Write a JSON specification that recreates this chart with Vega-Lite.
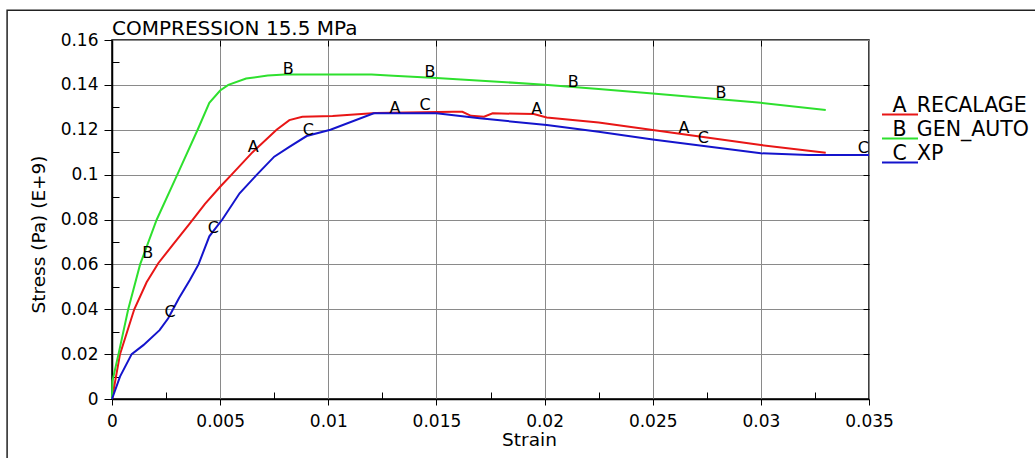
{
  "$schema": "https://vega.github.io/schema/vega-lite/v6.json",
  "width": 757,
  "height": 359,
  "autosize": {"type": "none"},
  "padding": {"left": 112, "top": 40, "right": 166, "bottom": 59},
  "background": "white",
  "title": {
    "text": "COMPRESSION 15.5 MPa",
    "anchor": "start",
    "frame": "group",
    "font": "DejaVu Sans",
    "fontSize": 20,
    "fontWeight": "normal",
    "color": "black",
    "baseline": "alphabetic",
    "offset": -46
  },
  "config": {
    "view": {"stroke": "black", "strokeWidth": 1.5},
    "axis": {
      "labelFont": "DejaVu Sans",
      "labelFontSize": 17,
      "labelColor": "black",
      "titleFont": "DejaVu Sans",
      "titleFontSize": 18.5,
      "titleFontWeight": "normal",
      "titleColor": "black",
      "tickColor": "black",
      "domainColor": "black",
      "gridColor": "#8a8a8a",
      "gridWidth": 1,
      "gridOpacity": 1
    }
  },
  "datasets": {
    "curves": [
      {"curve": "RECALAGE", "strain": 0, "stress": 0},
      {"curve": "RECALAGE", "strain": 0.00037, "stress": 0.02},
      {"curve": "RECALAGE", "strain": 0.00103, "stress": 0.04},
      {"curve": "RECALAGE", "strain": 0.0016, "stress": 0.052},
      {"curve": "RECALAGE", "strain": 0.00214, "stress": 0.0605},
      {"curve": "RECALAGE", "strain": 0.0028, "stress": 0.0686},
      {"curve": "RECALAGE", "strain": 0.0036, "stress": 0.0783},
      {"curve": "RECALAGE", "strain": 0.0043, "stress": 0.087},
      {"curve": "RECALAGE", "strain": 0.005, "stress": 0.0946},
      {"curve": "RECALAGE", "strain": 0.00553, "stress": 0.1},
      {"curve": "RECALAGE", "strain": 0.0065, "stress": 0.11},
      {"curve": "RECALAGE", "strain": 0.00761, "stress": 0.12},
      {"curve": "RECALAGE", "strain": 0.0082, "stress": 0.1243},
      {"curve": "RECALAGE", "strain": 0.0088, "stress": 0.1258},
      {"curve": "RECALAGE", "strain": 0.0102, "stress": 0.1261},
      {"curve": "RECALAGE", "strain": 0.0122, "stress": 0.1275},
      {"curve": "RECALAGE", "strain": 0.0158, "stress": 0.128},
      {"curve": "RECALAGE", "strain": 0.0162, "stress": 0.128},
      {"curve": "RECALAGE", "strain": 0.0166, "stress": 0.1262},
      {"curve": "RECALAGE", "strain": 0.0172, "stress": 0.1258},
      {"curve": "RECALAGE", "strain": 0.0176, "stress": 0.1273},
      {"curve": "RECALAGE", "strain": 0.0195, "stress": 0.127},
      {"curve": "RECALAGE", "strain": 0.0201, "stress": 0.1255},
      {"curve": "RECALAGE", "strain": 0.0225, "stress": 0.1232},
      {"curve": "RECALAGE", "strain": 0.025, "stress": 0.1199},
      {"curve": "RECALAGE", "strain": 0.03, "stress": 0.1132},
      {"curve": "RECALAGE", "strain": 0.033, "stress": 0.1098},
      {"curve": "GEN_AUTO", "strain": 0, "stress": 0},
      {"curve": "GEN_AUTO", "strain": 0.00002, "stress": 0.008},
      {"curve": "GEN_AUTO", "strain": 0.0003, "stress": 0.02},
      {"curve": "GEN_AUTO", "strain": 0.00075, "stress": 0.04},
      {"curve": "GEN_AUTO", "strain": 0.0013, "stress": 0.06},
      {"curve": "GEN_AUTO", "strain": 0.00207, "stress": 0.08},
      {"curve": "GEN_AUTO", "strain": 0.00302, "stress": 0.1},
      {"curve": "GEN_AUTO", "strain": 0.00396, "stress": 0.12},
      {"curve": "GEN_AUTO", "strain": 0.0045, "stress": 0.132},
      {"curve": "GEN_AUTO", "strain": 0.005, "stress": 0.1375},
      {"curve": "GEN_AUTO", "strain": 0.00538, "stress": 0.14},
      {"curve": "GEN_AUTO", "strain": 0.0062, "stress": 0.1428},
      {"curve": "GEN_AUTO", "strain": 0.0072, "stress": 0.1442},
      {"curve": "GEN_AUTO", "strain": 0.008, "stress": 0.1446},
      {"curve": "GEN_AUTO", "strain": 0.012, "stress": 0.1446},
      {"curve": "GEN_AUTO", "strain": 0.013, "stress": 0.1441},
      {"curve": "GEN_AUTO", "strain": 0.015, "stress": 0.1431},
      {"curve": "GEN_AUTO", "strain": 0.02, "stress": 0.1401},
      {"curve": "GEN_AUTO", "strain": 0.0225, "stress": 0.1382},
      {"curve": "GEN_AUTO", "strain": 0.025, "stress": 0.1362},
      {"curve": "GEN_AUTO", "strain": 0.03, "stress": 0.132},
      {"curve": "GEN_AUTO", "strain": 0.033, "stress": 0.1288},
      {"curve": "XP", "strain": 0, "stress": 0},
      {"curve": "XP", "strain": 0.00037, "stress": 0.01},
      {"curve": "XP", "strain": 0.00091, "stress": 0.02},
      {"curve": "XP", "strain": 0.00145, "stress": 0.024},
      {"curve": "XP", "strain": 0.0022, "stress": 0.0307},
      {"curve": "XP", "strain": 0.0026, "stress": 0.036},
      {"curve": "XP", "strain": 0.0031, "stress": 0.045},
      {"curve": "XP", "strain": 0.0036, "stress": 0.053},
      {"curve": "XP", "strain": 0.004, "stress": 0.06},
      {"curve": "XP", "strain": 0.0045, "stress": 0.0725},
      {"curve": "XP", "strain": 0.0051, "stress": 0.08},
      {"curve": "XP", "strain": 0.0059, "stress": 0.0917},
      {"curve": "XP", "strain": 0.0067, "stress": 0.1},
      {"curve": "XP", "strain": 0.0075, "stress": 0.108},
      {"curve": "XP", "strain": 0.0082, "stress": 0.1124},
      {"curve": "XP", "strain": 0.009, "stress": 0.1172},
      {"curve": "XP", "strain": 0.0101, "stress": 0.12},
      {"curve": "XP", "strain": 0.0121, "stress": 0.1273},
      {"curve": "XP", "strain": 0.015, "stress": 0.1273},
      {"curve": "XP", "strain": 0.017, "stress": 0.1251},
      {"curve": "XP", "strain": 0.0201, "stress": 0.1221},
      {"curve": "XP", "strain": 0.0225, "stress": 0.1191},
      {"curve": "XP", "strain": 0.025, "stress": 0.1157},
      {"curve": "XP", "strain": 0.03, "stress": 0.1095},
      {"curve": "XP", "strain": 0.0322, "stress": 0.1087},
      {"curve": "XP", "strain": 0.035, "stress": 0.1087}
    ],
    "markers": [
      {"letter": "B", "strain": 0.00165, "stress": 0.0649},
      {"letter": "B", "strain": 0.00815, "stress": 0.1469},
      {"letter": "B", "strain": 0.0147, "stress": 0.1459},
      {"letter": "B", "strain": 0.02133, "stress": 0.1414},
      {"letter": "B", "strain": 0.02816, "stress": 0.1362},
      {"letter": "A", "strain": 0.00653, "stress": 0.1122},
      {"letter": "A", "strain": 0.01308, "stress": 0.1298},
      {"letter": "A", "strain": 0.01964, "stress": 0.1291},
      {"letter": "A", "strain": 0.02645, "stress": 0.1206},
      {"letter": "C", "strain": 0.00268, "stress": 0.0389},
      {"letter": "C", "strain": 0.00468, "stress": 0.0761},
      {"letter": "C", "strain": 0.00908, "stress": 0.1199},
      {"letter": "C", "strain": 0.01447, "stress": 0.131},
      {"letter": "C", "strain": 0.02734, "stress": 0.1162},
      {"letter": "C", "strain": 0.03474, "stress": 0.1117}
    ]
  },
  "layer": [
    {
      "data": {"name": "curves"},
      "mark": {"type": "line", "strokeWidth": 2},
      "encoding": {
        "x": {
          "field": "strain",
          "type": "quantitative",
          "scale": {"domain": [0, 0.035], "nice": false, "zero": false},
          "axis": {
            "orient": "bottom",
            "values": [0, 0.005, 0.01, 0.015, 0.02, 0.025, 0.03, 0.035],
            "format": "~g",
            "grid": true,
            "tickSize": 6,
            "domainWidth": 1.5,
            "labelPadding": 8,
            "labelFlush": false,
            "title": "Strain",
            "titleX": 417,
            "titlePadding": 1
          }
        },
        "y": {
          "field": "stress",
          "type": "quantitative",
          "scale": {"domain": [0, 0.16], "nice": false, "zero": false},
          "axis": {
            "orient": "left",
            "values": [0, 0.02, 0.04, 0.06, 0.08, 0.1, 0.12, 0.14, 0.16],
            "format": "~g",
            "grid": true,
            "tickSize": 8,
            "domainWidth": 1.5,
            "labelPadding": 6,
            "labelFlush": false,
            "title": "Stress (Pa) (E+9)",
            "titleX": -74,
            "titleY": 194,
            "titleBaseline": "middle"
          }
        },
        "color": {
          "field": "curve",
          "type": "nominal",
          "scale": {
            "domain": ["RECALAGE", "GEN_AUTO", "XP"],
            "range": ["#e81616", "#2ee02e", "#1414cc"]
          },
          "legend": {
            "orient": "none",
            "legendX": 777,
            "legendY": 54.5,
            "title": null,
            "padding": 0,
            "symbolType": "M-1.8,0.9H1.8",
            "symbolSize": 400,
            "symbolStrokeWidth": 2,
            "symbolFillColor": "transparent",
            "labelFont": "DejaVu Sans",
            "labelFontSize": 20.5,
            "labelColor": "black",
            "labelOffset": -18.5,
            "labelLimit": 300,
            "rowPadding": 0,
            "labelExpr": "({'RECALAGE': 'A', 'GEN_AUTO': 'B', 'XP': 'C'})[datum.label] + '\u2002' + datum.label"
          }
        }
      }
    },
    {
      "data": {"name": "markers"},
      "mark": {
        "type": "text",
        "font": "DejaVu Sans",
        "fontSize": 16,
        "align": "center",
        "baseline": "middle",
        "color": "black"
      },
      "encoding": {
        "x": {
          "field": "strain",
          "type": "quantitative",
          "axis": {
            "orient": "bottom",
            "values": [0.0025, 0.0075, 0.0125, 0.0175, 0.0225, 0.0275, 0.0325],
            "labels": false,
            "domain": false,
            "grid": false,
            "tickSize": -7,
            "title": null
          }
        },
        "y": {
          "field": "stress",
          "type": "quantitative",
          "axis": {
            "orient": "left",
            "values": [0.01, 0.03, 0.05, 0.07, 0.09, 0.11, 0.13, 0.15],
            "labels": false,
            "domain": false,
            "grid": false,
            "tickSize": -7,
            "title": null
          }
        },
        "text": {"field": "letter"}
      }
    },
    {
      "data": {"values": [{}]},
      "mark": {"type": "rect", "fill": null, "fillOpacity": 0, "stroke": "#222222", "strokeWidth": 1.5, "clip": false},
      "encoding": {
        "x": {
          "datum": -0.00485,
          "type": "quantitative",
          "axis": {
            "orient": "top",
            "values": [0.005, 0.01, 0.015, 0.02, 0.025, 0.03],
            "labels": false,
            "domain": false,
            "grid": false,
            "tickSize": -6,
            "title": null
          }
        },
        "x2": {"datum": 0.06},
        "y": {
          "datum": 0.1733,
          "type": "quantitative",
          "axis": {
            "orient": "right",
            "values": [0.02, 0.04, 0.06, 0.08, 0.1, 0.12, 0.14],
            "labels": false,
            "domain": false,
            "grid": false,
            "tickSize": -6,
            "title": null
          }
        },
        "y2": {"datum": -0.05}
      }
    }
  ],
  "resolve": {"axis": {"x": "independent", "y": "independent"}}
}
